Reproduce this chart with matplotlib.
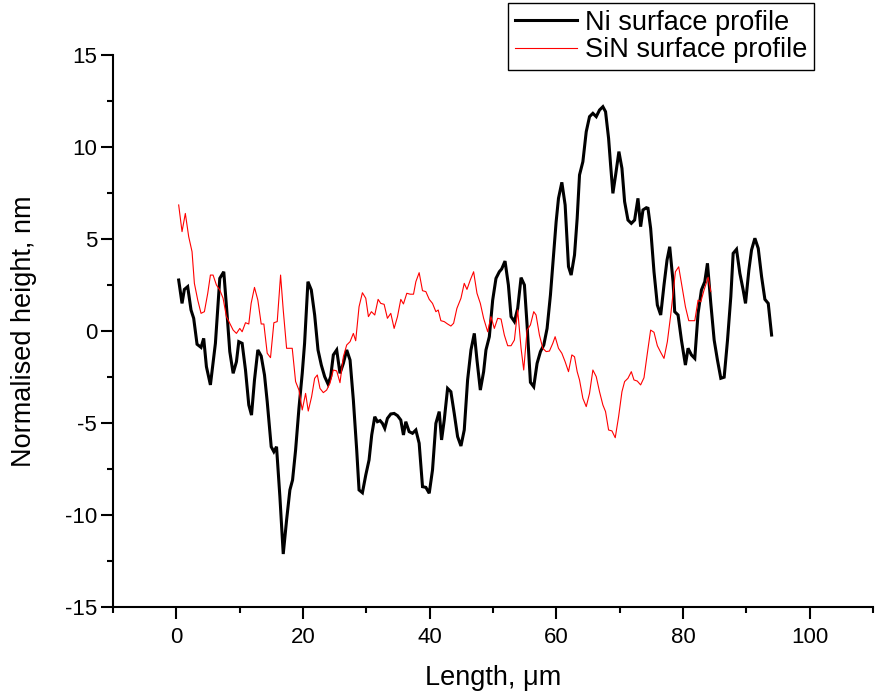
import matplotlib
matplotlib.use("Agg")
import matplotlib.pyplot as plt
from matplotlib.ticker import MultipleLocator

# Ni surface profile (length in um, height in nm)
ni_x = [0.37, 0.90, 1.27, 1.79, 2.32, 2.74, 3.27, 3.90, 4.32, 4.75, 5.38, 6.17, 6.86, 7.49, 8.02, 8.44,
        8.97, 9.49, 9.86, 10.39, 10.92, 11.44, 11.87, 12.34, 12.87, 13.40, 13.92, 14.35, 14.98, 15.40, 15.82,
        16.35, 16.88, 17.41, 17.93, 18.35, 18.83, 19.36, 19.88, 20.25, 20.78, 21.31, 21.84, 22.37, 22.89,
        23.42, 23.95, 24.37, 24.79, 25.32, 25.84, 26.37, 26.90, 27.43, 27.95, 28.48, 28.85, 29.38, 29.91,
        30.43, 30.85, 31.33, 31.75, 32.17, 32.54, 32.91, 33.33, 33.86, 34.39, 34.92, 35.44, 35.86, 36.23,
        36.76, 37.29, 37.82, 38.34, 38.87, 39.40, 39.93, 40.45, 40.98, 41.51, 41.88, 42.30, 42.83, 43.35,
        43.88, 44.41, 44.94, 45.46, 45.99, 46.52, 47.05, 47.47, 48.00, 48.52, 48.89, 49.42, 49.95, 50.47,
        51.00, 51.37, 51.90, 52.43, 52.85, 53.38, 53.90, 54.43, 54.96, 55.38, 55.91, 56.43, 56.96, 57.49,
        58.02, 58.54, 59.07, 59.60, 59.97, 60.34, 60.87, 61.39, 61.92, 62.34, 62.87, 63.29, 63.66, 64.19,
        64.72, 65.24, 65.77, 66.30, 66.82, 67.35, 67.77, 68.25, 68.57, 68.93, 69.36, 69.88, 70.36, 70.78,
        71.31, 71.84, 72.36, 72.89, 73.31, 73.68, 74.21, 74.47, 74.89, 75.42, 75.95, 76.48, 77.00, 77.48,
        77.90, 78.43, 78.69, 79.22, 79.75, 80.38, 80.80, 81.33, 81.86, 82.38, 82.91, 83.44, 83.86, 84.39,
        84.92, 85.44, 85.97, 86.50, 87.03, 87.55, 87.92, 88.45, 88.98, 89.50, 89.87, 90.40, 90.82, 91.35,
        91.88, 92.41, 92.93, 93.46, 93.99]
ni_y = [2.77, 1.50, 2.26, 2.41, 1.14, 0.69, -0.72, -0.89, -0.40, -1.94, -2.93, -0.67, 2.86, 3.22, 0.87, -1.12,
        -2.30, -1.67, -0.58, -0.67, -2.12, -4.02, -4.57, -2.66, -1.03, -1.36, -2.39, -3.84, -6.29, -6.56, -6.29,
        -9.00, -12.12, -10.27, -8.64, -8.10, -6.47, -4.20, -2.30, -0.67, 2.68, 2.23, 0.87, -1.03, -1.85,
        -2.48, -2.88, -2.48, -1.30, -1.03, -2.30, -1.76, -1.03, -1.58, -3.75, -6.47, -8.64, -8.79, -7.83,
        -7.01, -5.65, -4.66, -4.93, -4.87, -5.02, -5.29, -4.75, -4.51, -4.48, -4.60, -4.84, -5.65, -4.93,
        -5.47, -5.56, -5.38, -6.10, -8.46, -8.50, -8.82, -7.55, -5.02, -4.38, -5.92, -4.84, -3.12, -3.30,
        -4.48, -5.74, -6.25, -5.38, -2.66, -1.03, -0.13, -1.58, -3.21, -2.21, -1.03, -0.31, 1.68, 2.86,
        3.22, 3.37, 3.80, 2.50, 0.78, 0.51, 1.23, 2.90, 2.50, 0.33, -2.79, -3.03, -1.76, -1.12,
        -0.76, 0.14, 1.96, 4.31, 5.94, 7.21, 8.08, 6.85, 3.50, 3.04, 4.13, 6.12, 8.48, 9.20,
        10.83, 11.65, 11.83, 11.65, 12.01, 12.19, 11.92, 10.47, 9.02, 7.48, 8.48, 9.75, 8.84, 7.03,
        6.03, 5.85, 6.03, 7.21, 5.67, 6.58, 6.70, 6.67, 5.58, 3.22, 1.41, 0.87, 2.50, 3.86,
        4.58, 2.68, 1.05, 0.87, -0.49, -1.85, -0.94, -1.30, -1.49, 0.96, 2.23, 2.68, 3.68, 1.50,
        -0.49, -1.58, -2.57, -2.51, -0.49, 1.87, 4.22, 4.44, 3.13, 2.23, 1.50, 3.31, 4.40, 5.04,
        4.49, 2.95, 1.72, 1.50, -0.22]

# SiN surface profile
sin_x = [0.37, 0.90, 1.42, 1.95, 2.48, 2.85, 3.38, 3.90, 4.43, 4.96, 5.38, 5.80, 6.33, 6.86, 7.38, 7.91,
         8.44, 8.97, 9.49, 10.02, 10.39, 10.92, 11.44, 11.81, 12.34, 12.87, 13.40, 13.82, 14.35, 14.87, 15.40,
         15.93, 16.46, 16.88, 17.41, 18.30, 18.83, 19.36, 19.88, 20.41, 20.83, 21.36, 21.84, 22.26, 22.68,
         23.21, 23.73, 24.26, 24.79, 25.32, 25.84, 26.37, 26.90, 27.43, 27.95, 28.32, 28.85, 29.38, 29.91,
         30.33, 30.80, 31.33, 31.86, 32.28, 32.81, 33.33, 33.86, 34.39, 34.92, 35.44, 35.86, 36.39, 36.92,
         37.45, 37.82, 38.34, 38.87, 39.40, 39.93, 40.45, 40.98, 41.35, 41.77, 42.30, 42.83, 43.35, 43.78,
         44.30, 44.94, 45.46, 45.89, 46.41, 46.94, 47.47, 48.00, 48.52, 49.16, 49.68, 50.21, 50.74,
         51.27, 51.79, 52.32, 52.85, 53.38, 53.90, 54.43, 54.85, 55.38, 55.91, 56.43, 56.80, 57.33, 57.86,
         58.39, 58.91, 59.44, 59.81, 60.34, 60.87, 61.39, 61.92, 62.45, 62.87, 63.29, 63.66, 64.19, 64.72,
         65.24, 65.77, 66.30, 66.82, 67.35, 67.77, 68.25, 68.78, 69.30, 69.83, 70.36, 70.78, 71.31, 71.84,
         72.26, 72.78, 73.31, 73.84, 74.37, 74.89, 75.42, 75.95, 76.48, 77.00, 77.53, 78.06, 78.80, 79.32,
         79.85, 80.38, 80.91, 81.43, 81.86, 82.38, 82.81, 83.33, 83.97, 84.39]
sin_y = [6.85, 5.40, 6.39, 5.13, 4.31, 2.59, 1.68, 0.96, 1.05, 2.05, 3.04, 3.04, 2.50, 2.23, 1.78, 0.78,
         0.42, 0.05, -0.13, 0.14, -0.04, 0.45, 0.38, 1.50, 2.37, 1.68, 0.38, 0.38, -1.21, -1.45, 0.45,
         0.51, 3.04, 1.14, -0.94, -0.94, -2.75, -3.21, -4.29, -3.39, -4.35, -3.57, -2.57, -2.39, -3.12,
         -3.35, -3.21, -2.84, -2.12, -2.17, -2.81, -1.40, -0.76, -0.58, -0.13, -0.53, 1.32, 2.08, 1.78,
         0.78, 1.05, 0.87, 1.72, 1.50, 1.45, 0.69, 0.96, 0.14, 0.78, 1.72, 1.47, 2.05, 2.00,
         2.00, 2.68, 3.17, 2.19, 2.14, 1.72, 1.50, 1.05, 1.14, 0.56, 0.51, 0.38, 0.27, 0.42,
         1.23, 1.78, 2.59, 2.26, 2.77, 3.22, 2.05, 1.50, 0.69, -0.04, 0.78, 0.14, 0.69,
         0.65, -0.22, -0.80, -0.80, -0.49, 1.14, -0.94, -2.12, 0.05, 0.33, 1.05, 0.87, -0.22, -0.94,
         -1.12, -1.09, -0.67, -0.31, -0.94, -1.21, -1.67, -2.21, -1.30, -1.40, -2.21, -2.66, -3.66, -4.11,
         -3.39, -2.12, -2.48, -3.30, -4.02, -4.38, -5.38, -5.43, -5.80, -4.66, -3.30, -2.75, -2.57, -2.21,
         -2.66, -2.72, -2.93, -2.54, -1.21, 0.05, -0.07, -0.80, -1.16, -1.49, -0.58, 0.87, 3.22, 3.49,
         2.41, 1.32, 0.56, 0.56, 0.56, 1.68, 1.59, 2.23, 2.92, 2.14]

series_labels = ["Ni surface profile", "SiN surface profile"]
x_label = "Length, \u03bcm"
y_label = "Normalised height, nm"

assert len(ni_x) == len(ni_y), (len(ni_x), len(ni_y))
assert len(sin_x) == len(sin_y), (len(sin_x), len(sin_y))

plt.rcParams["font.family"] = ["Liberation Sans", "DejaVu Sans"]
plt.rcParams["axes.unicode_minus"] = False

fig = plt.figure(figsize=(8.75, 6.94), dpi=100)
ax = fig.add_axes([113 / 875, 1 - 607 / 694, 760 / 875, 552 / 694])

ax.plot(ni_x, ni_y, color="black", lw=2.2, label=series_labels[0], solid_joinstyle="miter")
ax.plot(sin_x, sin_y, color="red", lw=0.8, label=series_labels[1])

ax.set_xlim(-10, 110)
ax.set_ylim(-15, 15)
ax.xaxis.set_major_locator(MultipleLocator(20))
ax.xaxis.set_minor_locator(MultipleLocator(10))
ax.yaxis.set_major_locator(MultipleLocator(5))
ax.yaxis.set_minor_locator(MultipleLocator(2.5))

for side in ("top", "right"):
    ax.spines[side].set_visible(False)
for side in ("left", "bottom"):
    ax.spines[side].set_linewidth(1.5)

ax.tick_params(which="major", direction="out", length=8.5, width=1.5, labelsize=16)
ax.tick_params(axis="x", which="major", pad=6)
ax.tick_params(axis="y", which="major", pad=3)
ax.tick_params(which="minor", direction="out", length=4.5, width=1.5)

ax.set_xlabel(x_label, fontsize=19.5, labelpad=12)
ax.set_ylabel(y_label, fontsize=19.5, labelpad=20)

leg = fig.legend(loc="upper left", bbox_to_anchor=(508 / 875, 1 - 3 / 694), borderaxespad=0,
                 fontsize=19.5, frameon=True, fancybox=False, framealpha=1, edgecolor="black",
                 handlelength=2.3, handletextpad=0.3, labelspacing=0.05, borderpad=0.25)
leg.get_frame().set_linewidth(1.0)

fig.savefig("out.png", dpi=100)
